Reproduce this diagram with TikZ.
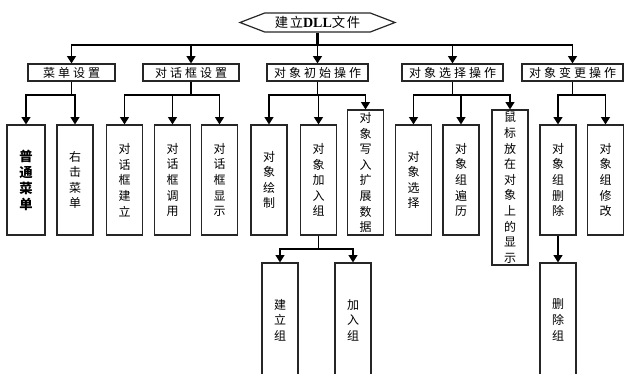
\documentclass[tikz,border=0pt]{standalone}
\usepackage{fontspec}
\setmainfont{Liberation Serif}
\newfontfamily\cjk{Noto Sans CJK SC}
\newfontfamily\cjksp[LetterSpace=25]{Noto Sans CJK SC}
\newfontfamily\cjkroot[LetterSpace=12]{Noto Sans CJK SC}
\usetikzlibrary{arrows.meta,shapes.symbols}
\begin{document}
\begin{tikzpicture}[x=0.75pt,y=-0.75pt,
  box/.style={draw=black!85, line width=0.9pt, fill=white, inner sep=0pt, align=center,
    font=\cjk\fontsize{9}{11.7}\selectfont},
  hbox/.style={box, minimum height=12.75pt, font=\cjksp\fontsize{9}{11.7}\selectfont},
  tallbox/.style={box, minimum width=27pt, minimum height=82.5pt},
  arr/.style={-{Triangle[width=6.75pt,length=5.5pt]}, line width=0.9pt},
  ln/.style={line width=0.9pt}]
\useasboundingbox (0,0) rectangle (625,374);
\clip (0,0) rectangle (625,374);

% root
\node[draw=black!85, line width=0.9pt, signal, signal to=east and west, signal pointer angle=42,
  minimum width=116.25pt, minimum height=14.25pt, inner sep=0pt,
  font=\cjkroot\fontsize{10}{11}\selectfont] (root) at (317.5,22.5) {建立{\rmfamily\bfseries\fontsize{10.5}{11}\selectfont DLL}文件};

% level 1
\node[hbox, minimum width=65.25pt] (m1) at (71.5,72.5) {菜单设置};
\node[hbox, minimum width=72pt] (m2) at (191,72.5) {对话框设置};
\node[hbox, minimum width=75.75pt] (m3) at (317.5,72.5) {对象初始操作};
\node[hbox, minimum width=75.75pt] (m4) at (452.5,72.5) {对象选择操作};
\node[hbox, minimum width=75.75pt] (m5) at (572.5,72.5) {对象变更操作};

% level 2
\node[tallbox, minimum width=28.5pt, font=\cjk\bfseries\fontsize{10}{12}\selectfont] (a1) at (26,180) {普\\通\\菜\\单};
\node[tallbox] (a2) at (75,180) {右\\击\\菜\\单};
\node[tallbox] (b1) at (124.5,180) {对\\话\\框\\建\\立};
\node[tallbox] (b2) at (172.5,180) {对\\话\\框\\调\\用};
\node[tallbox] (b3) at (219.5,180) {对\\话\\框\\显\\示};
\node[tallbox] (c1) at (269,180) {对\\象\\绘\\制};
\node[tallbox] (c2) at (318.5,180) {对\\象\\加\\入\\组};
\node[tallbox, minimum height=93.75pt] (c3) at (365.5,172.5) {对\\象\\写\\入\\扩\\展\\数\\据};
\node[tallbox] (d1) at (413.5,180) {对\\象\\选\\择};
\node[tallbox] (d2) at (461,180) {对\\象\\组\\遍\\历};
\node[tallbox, minimum height=116.25pt] (d3) at (510,187.5) {鼠\\标\\放\\在\\对\\象\\上\\的\\显\\示};
\node[tallbox] (e1) at (558,180) {对\\象\\组\\删\\除};
\node[tallbox] (e2) at (605.5,180) {对\\象\\组\\修\\改};

% level 3
\node[tallbox, minimum height=85.5pt] (f1) at (280,320) {建\\立\\组};
\node[tallbox, minimum height=85.5pt] (f2) at (353,320) {加\\入\\组};
\node[tallbox, minimum height=85.5pt] (g1) at (558,320) {删\\除\\组};

\coordinate (y1) at (0,45);
\coordinate (y2) at (0,95);
\coordinate (y3) at (0,249);

% connectors
\draw[line width=1.6pt] (root.south) -- (root.south |- y1);
\foreach \n in {m1,m2,m3,m4,m5}
  \draw[arr] (root.south |- y1) -| (\n);

\foreach \p/\c in {m1/a1,m1/a2,m2/b1,m2/b2,m2/b3,m3/c1,m3/c2,m3/c3,m4/d1,m4/d2,m4/d3,m5/e1,m5/e2}
  \draw[arr] (\p.south) -- (\p.south |- y2) -| (\c);

\foreach \c in {f1,f2}
  \draw[arr] (c2.south) -- (c2.south |- y3) -| (\c);
\draw[arr] (e1) -- (g1);
\end{tikzpicture}
\end{document}
